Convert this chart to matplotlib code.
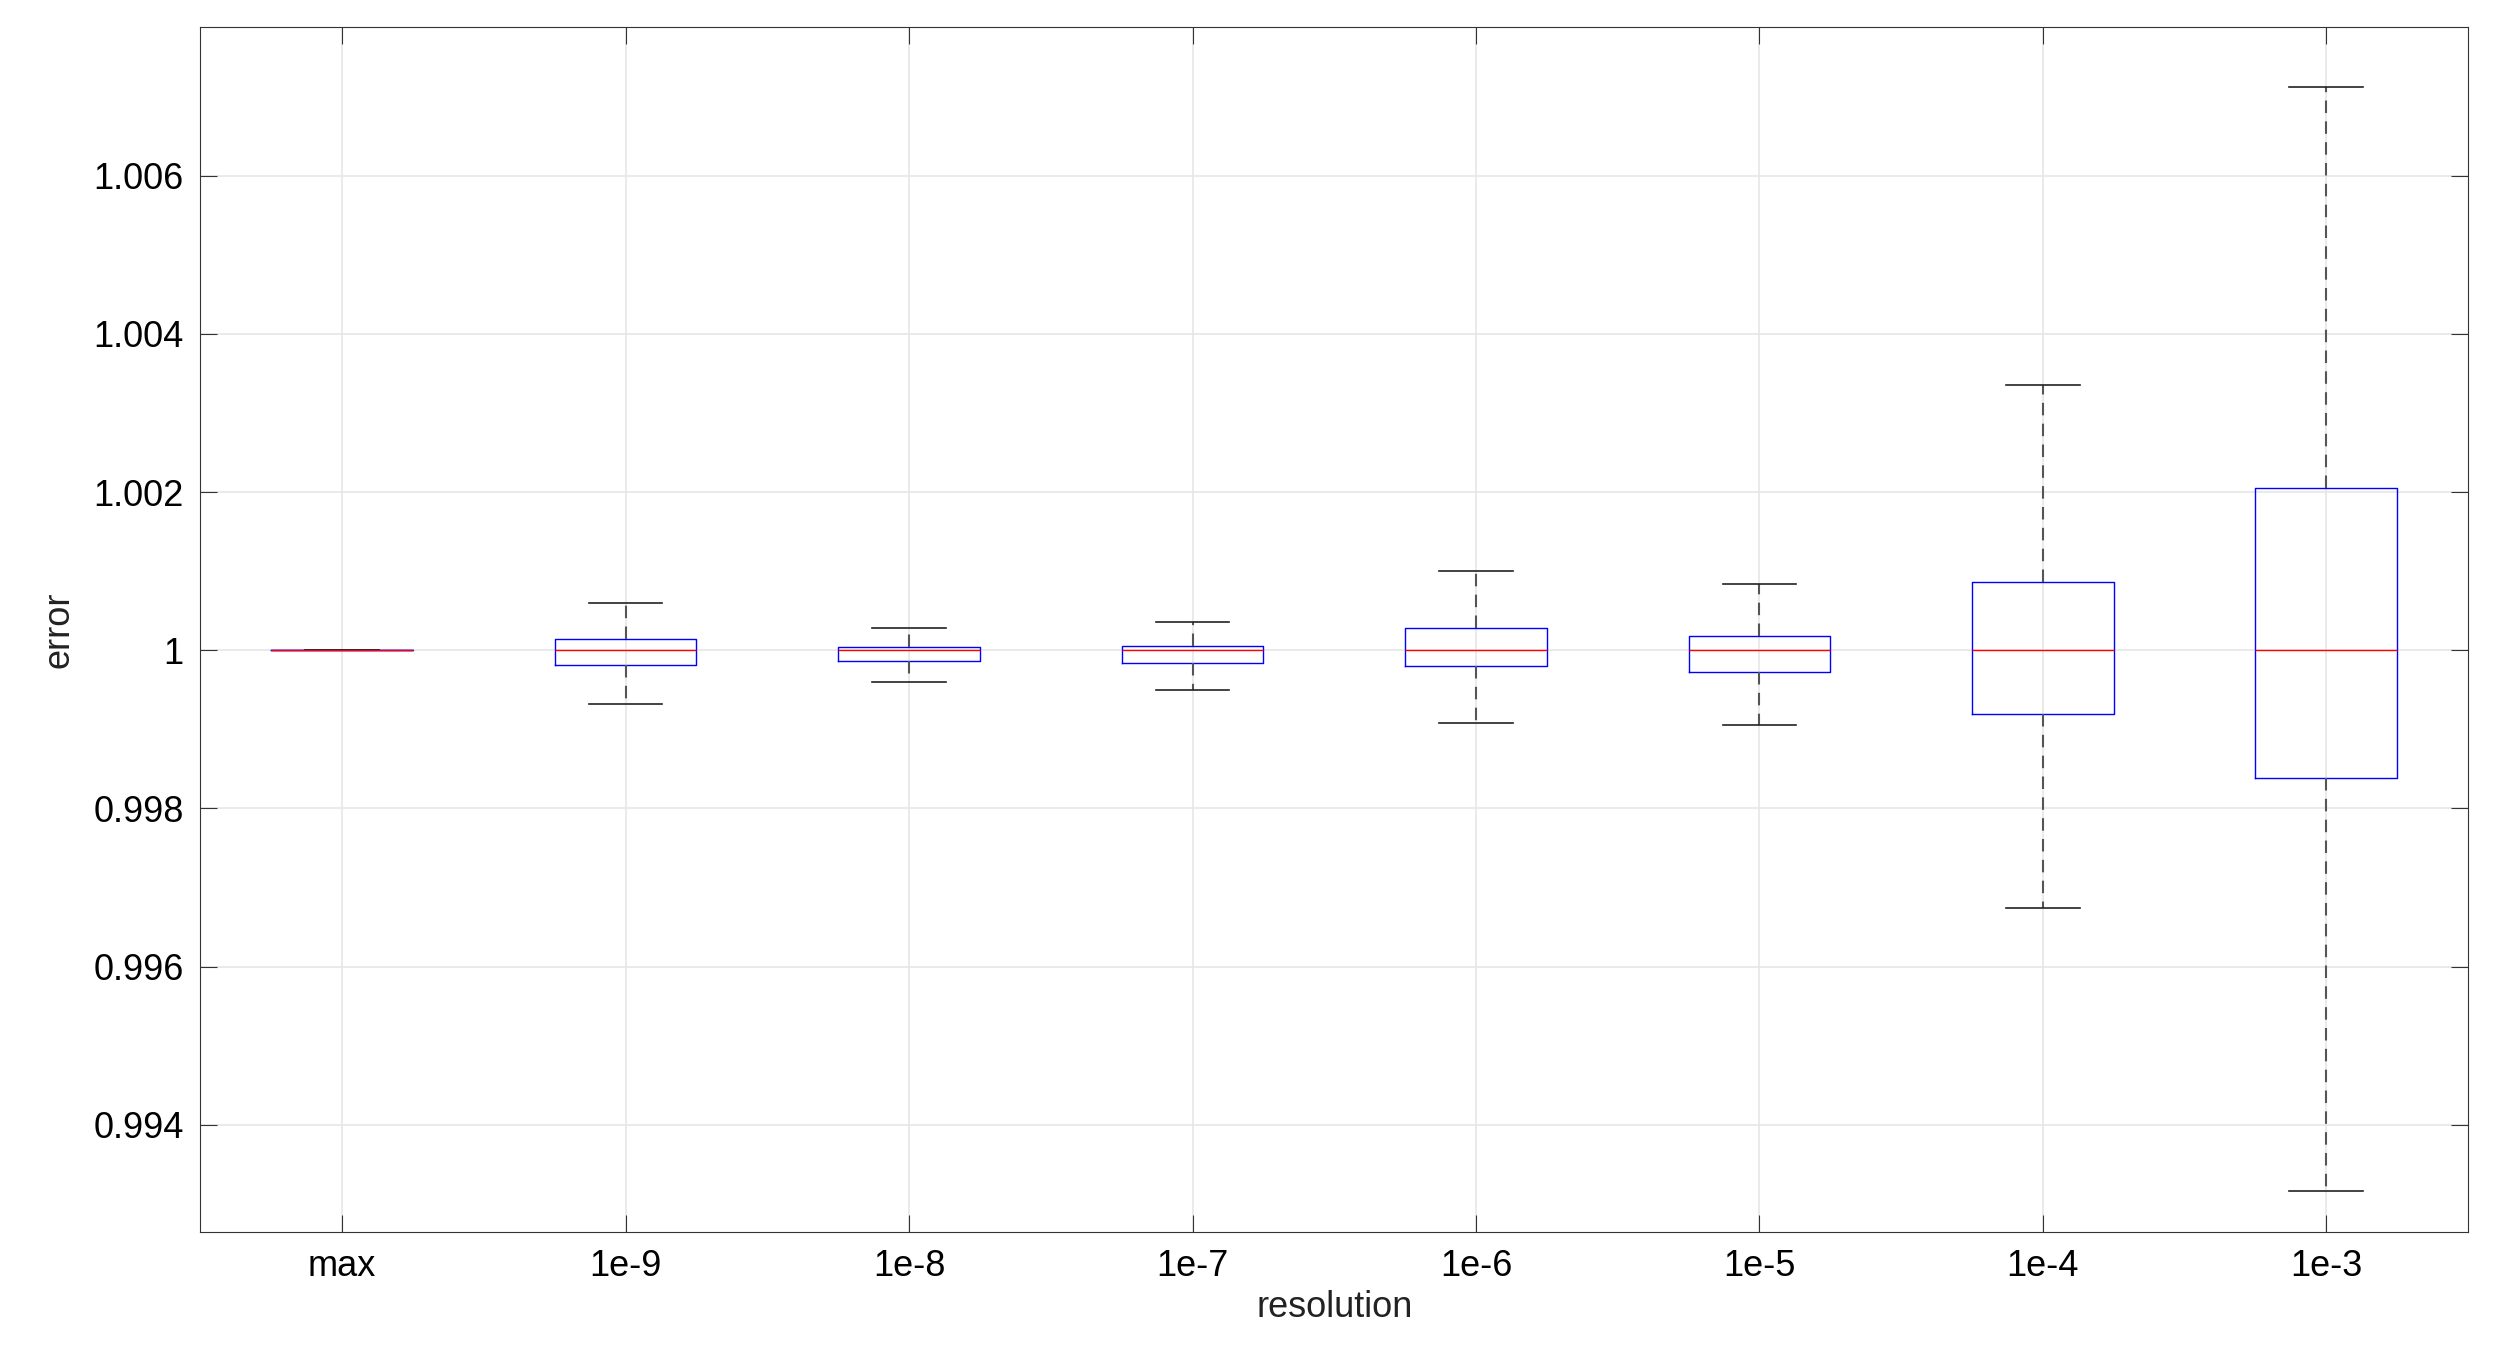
import matplotlib
matplotlib.use("Agg")
import matplotlib.pyplot as plt

categories = ["max", "1e-9", "1e-8", "1e-7", "1e-6", "1e-5", "1e-4", "1e-3"]
whislo = [1.0, 0.99932, 0.99960, 0.99950, 0.99908, 0.99906, 0.99674, 0.99316]
q1     = [1.0, 0.99982, 0.99986, 0.99984, 0.99980, 0.99972, 0.99920, 0.99839]
med    = [1.0, 1.0, 1.0, 1.0, 1.0, 1.0, 1.0, 1.0]
q3     = [1.0, 1.00014, 1.00004, 1.00006, 1.00028, 1.00018, 1.00086, 1.00205]
whishi = [1.0, 1.00060, 1.00028, 1.00036, 1.00100, 1.00084, 1.00336, 1.00712]
yticks = [0.994, 0.996, 0.998, 1.0, 1.002, 1.004, 1.006]
ytick_labels = ["0.994", "0.996", "0.998", "1", "1.002", "1.004", "1.006"]

plt.rcParams["font.family"] = "Liberation Sans"
fig = plt.figure(figsize=(24.93, 13.58), dpi=100)
ax = fig.add_axes([0.0804, 0.0925, 0.9096, 0.8876])

stats = [dict(label=c, whislo=a, q1=b, med=m, q3=d, whishi=e, fliers=[])
         for c, a, b, m, d, e in zip(categories, whislo, q1, med, q3, whishi)]
ax.bxp(stats, positions=range(1, 9), widths=0.5, capwidths=0.26,
       boxprops=dict(color="#0000ff", linewidth=1.0),
       medianprops=dict(color="#ff0000", linewidth=1.0),
       whiskerprops=dict(color="#555555", linestyle=(0, (6, 4)), linewidth=1.5),
       capprops=dict(color="#222222", linewidth=1.2))
ax.set_xlim(0.5, 8.5)
ax.set_ylim(0.99264, 1.00788)
ax.set_yticks(yticks)
ax.set_yticklabels(ytick_labels)
ax.set_xticks(range(1, 9))
ax.set_xticklabels(categories)
ax.grid(True, color="#e6e6e6", linewidth=1.2)
ax.set_axisbelow(True)
ax.tick_params(direction="in", top=True, right=True, labelsize=26, length=12,
               color="#333333", pad=12)
for s in ax.spines.values():
    s.set_color("#333333")
ax.set_xlabel("resolution", fontsize=26, labelpad=4, color="#222222")
ax.set_ylabel("error", fontsize=26, labelpad=12, color="#222222")
fig.savefig("out.png", dpi=100, facecolor="white")
